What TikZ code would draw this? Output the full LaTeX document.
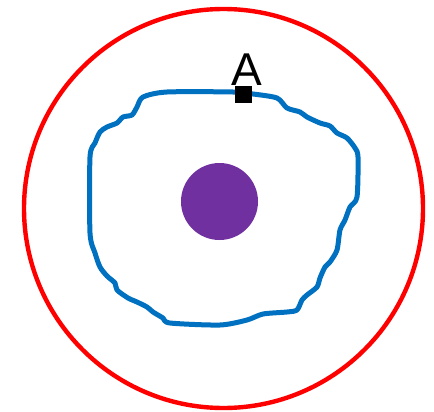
\documentclass[tikz,border=0pt]{standalone}
\usepackage{fontspec}
\setmainfont{Liberation Sans}
\usepackage{xcolor}
\definecolor{ringred}{HTML}{FF0000}
\definecolor{pathblue}{HTML}{0070C0}
\definecolor{corepurple}{HTML}{7030A0}

\begin{document}
\begin{tikzpicture}[x=0.5pt,y=-0.5pt]
\useasboundingbox (0,0) rectangle (434,412);
\draw[ringred,line width=2.2pt] (223.5,208.5) circle (199.5);
\node[circle,fill=corepurple,minimum size=38.5pt,inner sep=0pt] (core) at (219.5,201.5) {};
\draw[pathblue,line width=2.5pt,line join=round] plot[smooth cycle,tension=0.45] coordinates {
  (143,97) (167,92) (233,92) (253,94) (277,98) (287,108) (300,112) (307,117)
  (320,123) (330,126) (337,133) (347,138) (355,148) (358,157) (357,197) (350,207)
  (345,220) (340,230) (337,250) (330,262) (325,267) (320,278) (317,287) (307,295)
  (302,300) (297,310) (287,312) (263,314) (247,320) (220,325) (170,323) (163,318)
  (153,312) (147,307) (137,302) (128,298) (117,290) (115,283) (107,276) (100,267)
  (95,253) (90,233) (90,157) (95,143) (100,132) (107,127) (117,123) (123,117)
  (132,115) (137,107)};
\node[fill=black,minimum size=8.5pt,inner sep=0pt] (mark) at (243.5,94.5) {};
\node[anchor=base,font=\fontsize{23pt}{23pt}\selectfont,inner sep=0pt] (lblA) at (246.5,85) {A};
\end{tikzpicture}
\end{document}
